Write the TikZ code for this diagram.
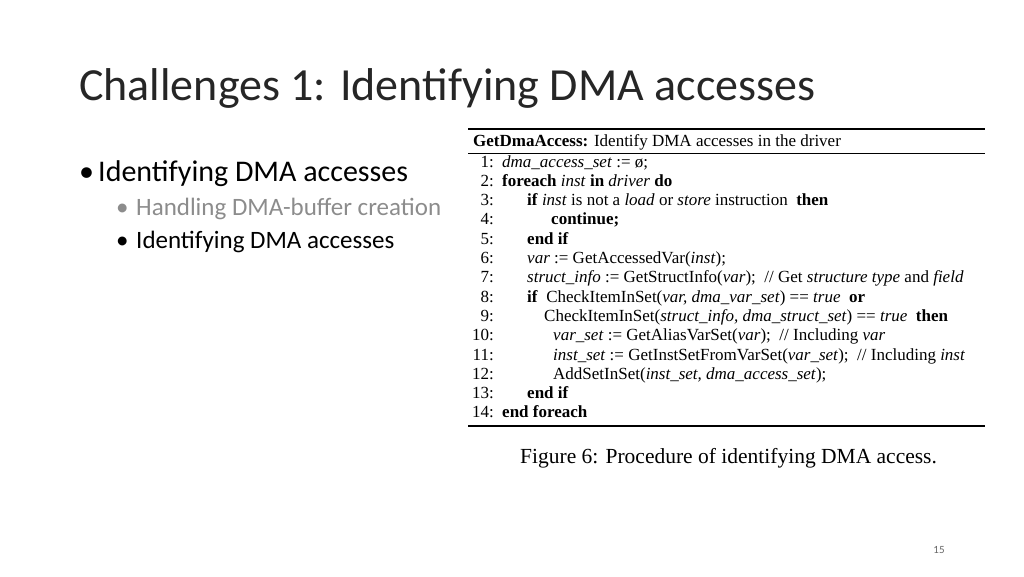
\documentclass[tikz,border=0pt]{standalone}
\usepackage{fontspec}
\setmainfont{Carlito}
\newfontfamily\tms{Liberation Serif}
\begin{document}
\begin{tikzpicture}[x=1pt,y=-1pt,
  ln/.style={anchor=base east,font=\tms\fontsize{17}{17}\selectfont,inner sep=0},
  cd/.style={anchor=base west,font=\tms\fontsize{17}{17}\selectfont,inner sep=0},
  bul/.style={anchor=base west,inner sep=0}]
\useasboundingbox (0,0) rectangle (1024,576);
\node[bul,font=\fontsize{46}{46}\selectfont,text=black!85] (title) at (79,100) {Challenges 1: Identifying DMA accesses};
\node[bul,font=\fontsize{30}{30}\selectfont] (b1d) at (79,181) {\textbullet};
\node[bul,font=\fontsize{30}{30}\selectfont] (b1) at (98,181) {Identifying DMA accesses};
\node[bul,font=\fontsize{25}{25}\selectfont,text=black!45] (b2d) at (116,215) {\textbullet};
\node[bul,font=\fontsize{25}{25}\selectfont,text=black!45] (b2) at (136,215) {Handling DMA-buffer creation};
\node[bul,font=\fontsize{25}{25}\selectfont] (b3d) at (116,248) {\textbullet};
\node[bul,font=\fontsize{25}{25}\selectfont] (b3) at (136,248) {Identifying DMA accesses};
\draw[line width=1.8pt] (468,129) -- (985,129);
\draw[line width=0.8pt] (468,153) -- (985,153);
\draw[line width=1.8pt] (468,426) -- (985,426);
\node[cd] (hd) at (473,146) {\textbf{GetDmaAccess:} Identify DMA accesses in the driver};
\foreach \n in {1,...,14}{\node[ln] (n\n) at (494,{167+(\n-1)*19.3}) {\n:};}
\def\Y#1{{167+(#1-1)*19.3}}
\node[cd] (l1) at (502,\Y1) {\textit{dma\_access\_set} := \o;};
\node[cd] (l2) at (502,\Y2) {\textbf{foreach} \textit{inst} \textbf{in} \textit{driver} \textbf{do}};
\node[cd] (l3) at (527,\Y3) {\textbf{if} \textit{inst} is not a \textit{load} or \textit{store} instruction \ \textbf{then}};
\node[cd] (l4) at (551,\Y4) {\textbf{continue;}};
\node[cd] (l5) at (527,\Y5) {\textbf{end if}};
\node[cd] (l6) at (527,\Y6) {\textit{var} := GetAccessedVar(\textit{inst});};
\node[cd] (l7) at (527,\Y7) {\textit{struct\_info} := GetStructInfo(\textit{var}); \ // Get \textit{structure type} and \textit{field}};
\node[cd] (l8) at (527,\Y8) {\textbf{if} \ CheckItemInSet(\textit{var, dma\_var\_set}) == \textit{true} \ \textbf{or}};
\node[cd] (l9) at (544,\Y9) {CheckItemInSet(\textit{struct\_info, dma\_struct\_set}) == \textit{true} \ \textbf{then}};
\node[cd] (l10) at (553,\Y{10}) {\textit{var\_set} := GetAliasVarSet(\textit{var}); \ // Including \textit{var}};
\node[cd] (l11) at (553,\Y{11}) {\textit{inst\_set} := GetInstSetFromVarSet(\textit{var\_set}); \ // Including \textit{inst}};
\node[cd] (l12) at (553,\Y{12}) {AddSetInSet(\textit{inst\_set, dma\_access\_set});};
\node[cd] (l13) at (527,\Y{13}) {\textbf{end if}};
\node[cd] (l14) at (502,\Y{14}) {\textbf{end foreach}};
\node[cd,font=\tms\fontsize{21.5}{21.5}\selectfont] (cap) at (520,463) {Figure 6: Procedure of identifying DMA access.};
\node[anchor=base,font=\fontsize{11}{11}\selectfont,text=black!60] (pg) at (939,553) {15};
\end{tikzpicture}
\end{document}
